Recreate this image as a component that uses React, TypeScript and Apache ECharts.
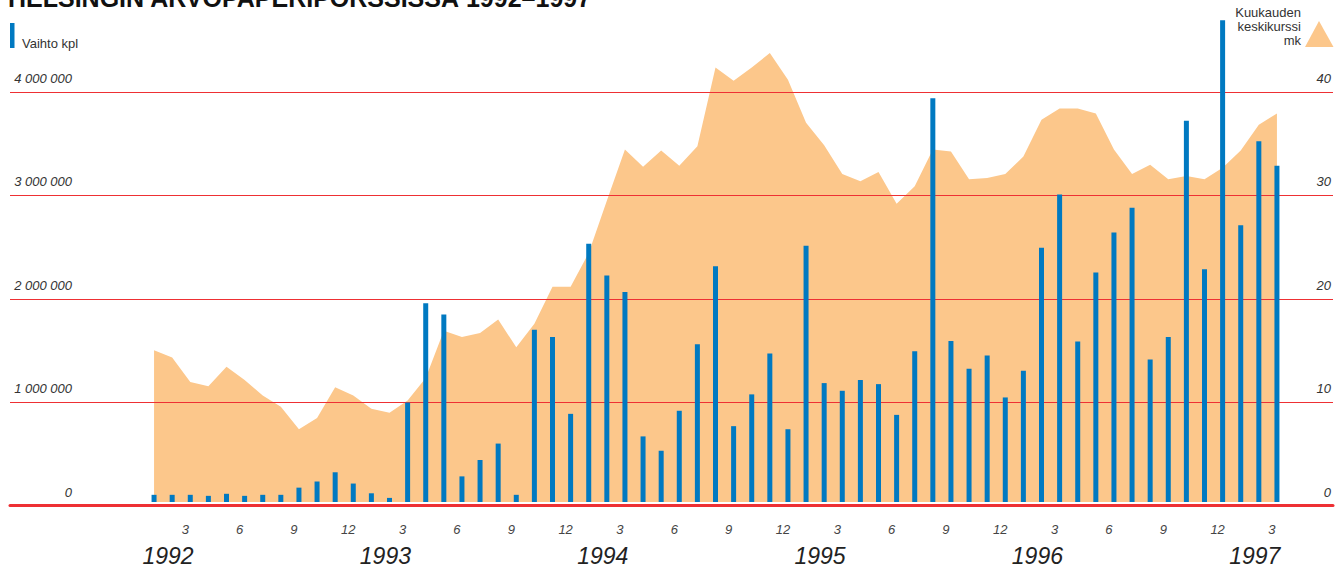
import React, { useEffect, useRef } from "react";
import * as echarts from "echarts";

const categories = [
  "1992-01", "1992-02", "1992-03", "1992-04", "1992-05", "1992-06", "1992-07", "1992-08", "1992-09", "1992-10", "1992-11", "1992-12",
  "1993-01", "1993-02", "1993-03", "1993-04", "1993-05", "1993-06", "1993-07", "1993-08", "1993-09", "1993-10", "1993-11", "1993-12",
  "1994-01", "1994-02", "1994-03", "1994-04", "1994-05", "1994-06", "1994-07", "1994-08", "1994-09", "1994-10", "1994-11", "1994-12",
  "1995-01", "1995-02", "1995-03", "1995-04", "1995-05", "1995-06", "1995-07", "1995-08", "1995-09", "1995-10", "1995-11", "1995-12",
  "1996-01", "1996-02", "1996-03", "1996-04", "1996-05", "1996-06", "1996-07", "1996-08", "1996-09", "1996-10", "1996-11", "1996-12",
  "1997-01", "1997-02", "1997-03",
];

// Vaihto kpl (monthly turnover, pcs)
const volume = [
  70000, 70000, 70000, 60000, 80000, 60000, 70000, 70000, 140000, 200000, 290000, 180000,
  85000, 40000, 970000, 1940000, 1830000, 250000, 410000, 570000, 70000, 1680000, 1610000, 860000,
  2520000, 2210000, 2050000, 640000, 500000, 890000, 1540000, 2300000, 740000, 1050000, 1450000, 710000,
  2500000, 1160000, 1085000, 1190000, 1150000, 850000, 1470000, 3940000, 1570000, 1300000, 1430000, 1020000,
  1280000, 2480000, 3000000, 1565000, 2240000, 2630000, 2870000, 1390000, 1610000, 3720000, 2270000, 4700000,
  2700000, 3520000, 3280000,
];

// Kuukauden keskikurssi mk (monthly average price)
const price = [
  14.8, 14.1, 11.7, 11.3, 13.2, 11.9, 10.4, 9.3, 7.1, 8.2, 11.2, 10.4,
  9.1, 8.7, 9.9, 12.1, 16.7, 16.1, 16.5, 17.8, 15.1, 17.4, 21.0, 21.0,
  24.3, 29.4, 34.4, 32.7, 34.3, 32.8, 34.7, 42.4, 41.1, 42.4, 43.8, 41.2,
  37.0, 34.8, 32.0, 31.3, 32.2, 29.1, 30.8, 34.4, 34.2, 31.5, 31.6, 32.0,
  33.7, 37.3, 38.4, 38.4, 37.9, 34.4, 32.0, 32.9, 31.5, 31.8, 31.5, 32.6,
  34.3, 36.8, 37.9,
];

const leftTicks = { min: 0, max: 4000000, interval: 1000000 };
const rightTicks = { min: 0, max: 40, interval: 10 };
const monthTickLabels = ["3", "6", "9", "12"];

const titleText = "HELSINGIN ARVOPAPERIPÖRSSISSÄ 1992–1997";
const leftLegend = "Vaihto kpl";
const rightLegend = "Kuukauden\nkeskikurssi\nmk";

const BLUE = "#0079c1";
const ORANGE = "#fcc78b";
const RED = "#ee3034";
const FONT = "'Liberation Sans', Arial, sans-serif";

const fmtThousands = (v: number) =>
  String(v).replace(/\B(?=(\d{3})+(?!\d))/g, " ");

export default function App() {
  const ref = useRef<HTMLDivElement>(null);
  useEffect(() => {
    if (!ref.current) return;
    const chart = echarts.init(ref.current, undefined, { renderer: "svg" });
    const gridTop = 92;
    const gridBottom = 61.5;
    chart.setOption({
      animation: false,
      backgroundColor: "#ffffff",
      textStyle: { fontFamily: FONT },
      grid: [
        { left: 145, right: 57, top: gridTop, bottom: gridBottom },
        { left: 10, right: 10, top: gridTop, bottom: gridBottom },
      ],
      xAxis: [
        {
          type: "category",
          gridIndex: 0,
          data: categories,
          boundaryGap: true,
          axisLine: { show: false },
          axisTick: { show: false },
          splitLine: { show: false },
          axisLabel: {
            interval: 0,
            margin: 21,
            fontSize: 13,
            fontStyle: "italic",
            color: "#444",
            fontFamily: FONT,
            padding: [0, 10, 0, 0],
            formatter: (v: string) => {
              const m = String(parseInt(v.split("-")[1], 10));
              return monthTickLabels.indexOf(m) >= 0 ? m : "";
            },
          },
        },
        {
          type: "category",
          gridIndex: 0,
          data: categories,
          position: "bottom",
          boundaryGap: true,
          axisLine: { show: false },
          axisTick: { show: false },
          splitLine: { show: false },
          axisLabel: {
            interval: 0,
            margin: 42,
            fontSize: 23,
            fontStyle: "italic",
            color: "#222",
            fontFamily: FONT,
            padding: [0, 0, 0, 28],
            formatter: (v: string) => {
              const parts = v.split("-");
              return parts[1] === "01" ? parts[0] : "";
            },
          },
        },
        {
          type: "value",
          gridIndex: 1,
          min: 0,
          max: 1,
          z: 6,
          axisLine: { show: true, onZero: false, lineStyle: { color: RED, width: 3 } },
          axisTick: { show: false },
          axisLabel: { show: false },
          splitLine: { show: false },
        },
      ],
      yAxis: [
        {
          type: "value",
          gridIndex: 0,
          min: leftTicks.min,
          max: leftTicks.max,
          show: false,
        },
        {
          type: "value",
          gridIndex: 0,
          min: rightTicks.min,
          max: rightTicks.max,
          show: false,
        },
        {
          type: "value",
          gridIndex: 1,
          position: "left",
          min: leftTicks.min,
          max: leftTicks.max,
          interval: leftTicks.interval,
          z: 3,
          axisLine: { show: false },
          axisTick: { show: false },
          splitLine: { show: true, lineStyle: { color: RED, width: 1 } },
          axisLabel: {
            inside: true,
            margin: 62,
            align: "right",
            verticalAlign: "bottom",
            padding: [0, 0, 7, 0],
            fontSize: 13,
            fontStyle: "italic",
            color: "#333",
            fontFamily: FONT,
            formatter: (v: number) => fmtThousands(v),
          },
        },
        {
          type: "value",
          gridIndex: 1,
          position: "right",
          min: rightTicks.min,
          max: rightTicks.max,
          interval: rightTicks.interval,
          z: 3,
          axisLine: { show: false },
          axisTick: { show: false },
          splitLine: { show: false },
          axisLabel: {
            inside: true,
            margin: 2,
            align: "right",
            verticalAlign: "bottom",
            padding: [0, 0, 7, 0],
            fontSize: 13,
            fontStyle: "italic",
            color: "#333",
            fontFamily: FONT,
          },
        },
      ],
      series: [
        {
          name: "Kuukauden keskikurssi mk",
          type: "line",
          xAxisIndex: 0,
          yAxisIndex: 1,
          data: price,
          clip: false,
          symbol: "none",
          lineStyle: { width: 0, color: ORANGE },
          areaStyle: { color: ORANGE, opacity: 1 },
          z: 1,
        },
        {
          name: "Vaihto kpl",
          type: "bar",
          xAxisIndex: 0,
          yAxisIndex: 0,
          data: volume,
          clip: false,
          barWidth: 5,
          itemStyle: { color: BLUE },
          z: 5,
        },
      ],
      graphic: [
        {
          type: "text",
          left: 8,
          top: -15,
          z: 10,
          style: {
            text: titleText,
            fontSize: 25,
            fontWeight: 900,
            fontFamily: FONT,
            fill: "#111",
          },
        },
        {
          type: "rect",
          shape: { x: 10, y: 23, width: 4.5, height: 25 },
          style: { fill: BLUE },
        },
        {
          type: "text",
          x: 22,
          y: 43,
          style: {
            text: leftLegend,
            fontSize: 13,
            fontFamily: FONT,
            fill: "#333",
            verticalAlign: "middle",
            align: "left",
          },
        },
        {
          type: "text",
          x: 1301,
          y: 5,
          style: {
            text: rightLegend,
            fontSize: 13,
            lineHeight: 14,
            fontFamily: FONT,
            fill: "#333",
            verticalAlign: "top",
            align: "right",
          },
        },
        {
          type: "polygon",
          shape: { points: [[1319, 21], [1305, 47], [1333.5, 47]] },
          style: { fill: ORANGE },
        },
      ],
    });
    return () => chart.dispose();
  }, []);
  return (
    <div
      ref={ref}
      style={{ position: "absolute", left: 0, top: 0, width: 1343, height: 567 }}
    />
  );
}
